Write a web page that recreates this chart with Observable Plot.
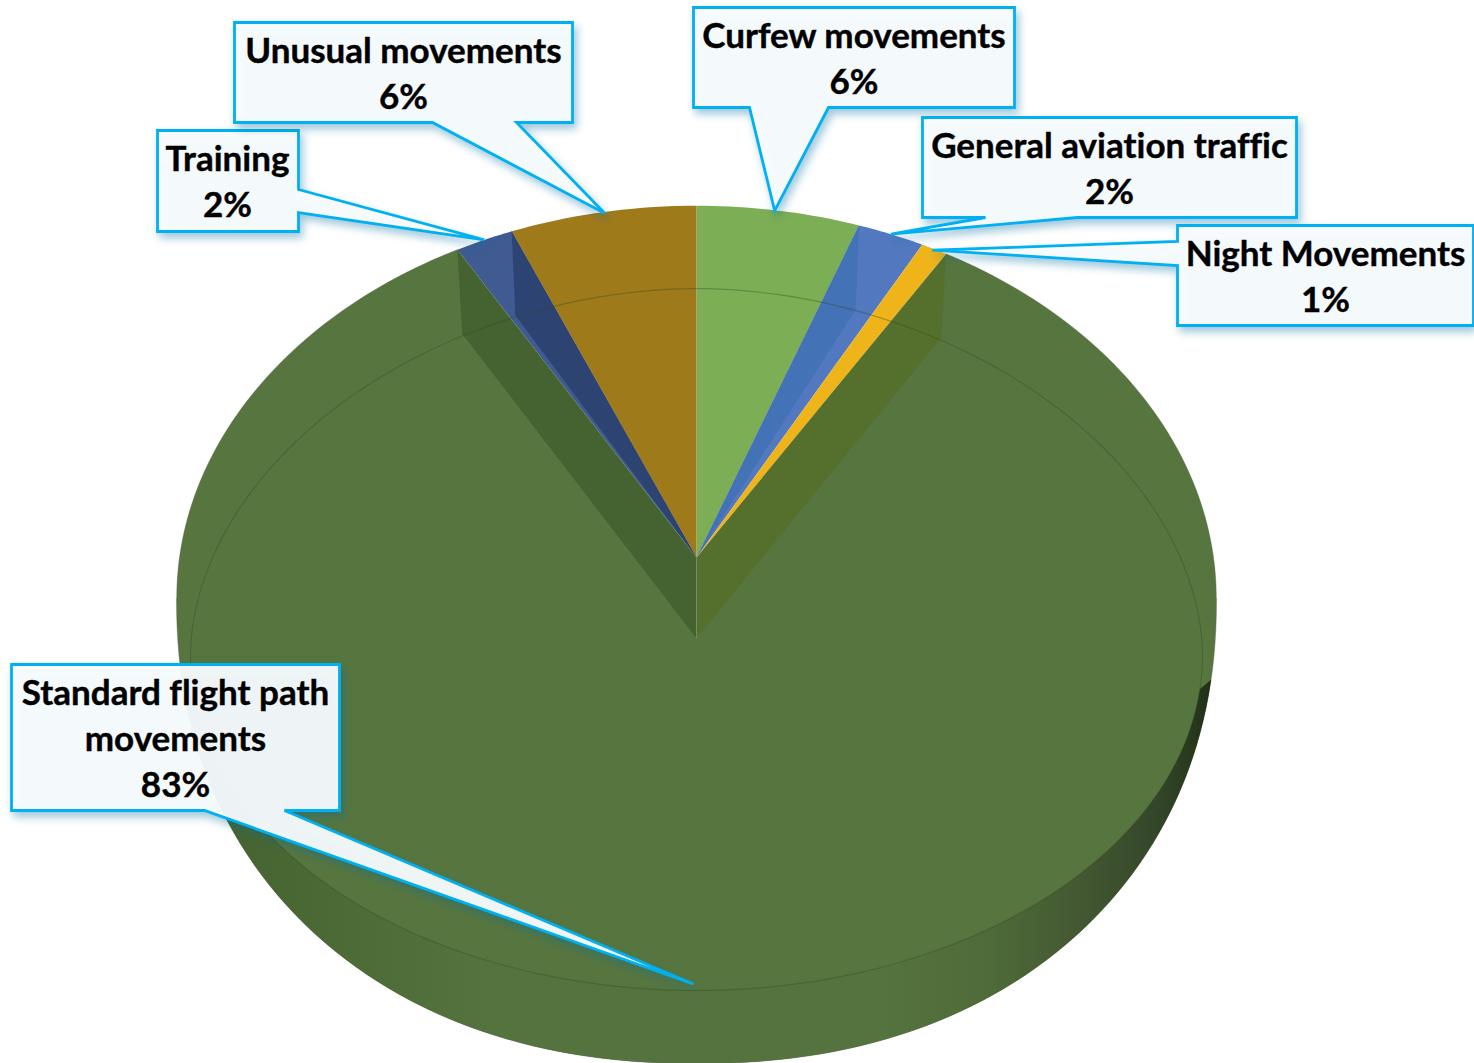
<!DOCTYPE html>
<html>
<head>
<meta charset="utf-8">
<script src="https://cdn.jsdelivr.net/npm/d3@7"></script>
<script src="https://cdn.jsdelivr.net/npm/@observablehq/plot@0.6"></script>
<style>
html,body{margin:0;padding:0;background:#fff}
svg{display:block}
g[stroke="#00b0f0"] path{filter:drop-shadow(3px 5px 4px rgba(0,110,160,.4))}
text{font-variant-ligatures:none;paint-order:stroke;stroke:#000;stroke-width:.4px}
</style>
</head>
<body>
<div id="chart"></div>
<script>
// ---- data, clockwise from 12 o'clock ----
const categories = ["Curfew movements","General aviation traffic","Night Movements","Standard flight path\nmovements","Training","Unusual movements"];
const shares = [5.6, 2.3, 0.9, 82.8, 2.0, 6.4];
const topColors = ["#7bae55","#5279c0","#eeb41a","#57763f","#3f5b92","#9f7a1b"];

// ---- projection of the tilted disc ----
const view = {cx:696, cy:557, a:517, b:388, k:0.103, drop:81, wx:.98, wy:.99};
const rim = t => {
  const d = 1 + view.k*Math.cos(t);
  return {x:view.cx + view.a*Math.sin(t)/d, y:view.cy - view.b*Math.cos(t)/d};
};
const floor = t => {
  const d = 1 + view.k*Math.cos(t);
  return {x:view.cx + view.wx*view.a*Math.sin(t)/d, y:view.cy + view.drop - view.wy*view.b*Math.cos(t)/d};
};
const apex = {x:view.cx, y:view.cy}, apex2 = {x:view.cx, y:view.cy+view.drop};
const arc = (t0,t1,n=80) => d3.range(n+1).map(i => rim(t0+(t1-t0)*i/n));

// outer lower silhouette and inner rim line (superelliptic under perspective)
const TAU = 2*Math.PI;
const sup = (cx,cy,a,b,n,p) => {
  const c = Math.cos(p), s = Math.sin(p);
  return {x:cx + a*Math.sign(c)*Math.abs(c)**(2/n), y:cy + b*Math.sign(s)*Math.abs(s)**(2/n)};
};
const lowerOuter = p => sup(696,597.5,520,465.5,2.18,p);
const innerLow = p => sup(696,655,506,335,2,p);
const innerUp = p => sup(696,655,506,367,1.9,p);

// slice angles
const cum = d3.cumsum(shares);
const total = d3.sum(shares);
const ang = i => (i<0 ? 0 : cum[i]/total*TAU);
const mid = i => (ang(i-1)+ang(i))/2;

const iStd = 3;
const tE = Math.acos(-view.k);
const silhouette = [
  ...arc(ang(iStd-1), tE, 60),
  ...d3.range(0,121).map(i => lowerOuter(Math.PI*i/120)),
  ...arc(TAU-tE, ang(iStd), 60)
];
const greenTop = [...silhouette, apex2];
const outerStart = 0.15, innerStart = 0.1;
const band = [
  ...d3.range(0,101).map(i => lowerOuter(outerStart+(Math.PI-2*outerStart)*i/100)),
  ...d3.range(100,-1,-1).map(i => innerLow(innerStart+(Math.PI-2*innerStart)*i/100))
];
const innerLine = [
  ...d3.range(0,121).map(i => innerUp(Math.PI+Math.PI*i/120)),
  ...d3.range(0,121).map(i => innerLow(Math.PI*i/120))
];

const poly = (pts,fill,extra={}) => Plot.line(pts,{x:"x",y:"y",fill,stroke:"none",curve:"linear",...extra});

const sliceMarks = shares.map((v,i) => i===iStd ? null :
  poly([apex, ...arc(ang(i-1),ang(i),20)], topColors[i]));

// walls seen inside the open wedge
const walls = [
  poly([apex, rim(ang(iStd-1)), floor(ang(iStd-1)), apex2], "#556f2c"),
  poly([apex, rim(ang(iStd)), floor(ang(iStd)), apex2], "#446330"),
  poly([apex, rim(ang(4)), floor(ang(4))], "#2d4472"),
  poly([apex, rim(ang(0)), floor(ang(0))], "#4472b6")
];

// ---- callouts: box + two base points of the pointer, tip comes from the slice ----
const layout = [
  {box:[693,7,1014,107],  side:"b", base:[749,828],  tx:853.5, tip:[-4,0]},
  {box:[922,117,1296,217],side:"b", base:[985,1077], tx:1109,  tip:[0,0]},
  {box:[1177,225,1473,325],side:"l",base:[241,265],  tx:1325,  tip:[-2,1]},
  {box:[11,664,339,810],  side:"b", base:[204,284],  tx:175,   tip:[4,-6]},
  {box:[157,130,298,231], side:"r", base:[189,212],  tx:227,   tip:[0,0]},
  {box:[234,22,572,122],  side:"b", base:[432,516],  tx:403,   tip:[2,1]}
];
const calloutPath = (l,i) => {
  const [x0,y0,x1,y1] = l.box, r = rim(mid(i)), t = {x:r.x+l.tip[0], y:r.y+l.tip[1]}, [p,q] = l.base;
  const P = (x,y)=>({x,y});
  if (l.side==="b") return [P(x0,y0),P(x1,y0),P(x1,y1),P(q,y1),t,P(p,y1),P(x0,y1),P(x0,y0),P(x1,y0)];
  if (l.side==="r") return [P(x0,y0),P(x1,y0),P(x1,p),t,P(x1,q),P(x1,y1),P(x0,y1),P(x0,y0),P(x1,y0)];
  return [P(x0,y0),P(x1,y0),P(x1,y1),P(x0,y1),P(x0,q),t,P(x0,p),P(x0,y0),P(x1,y0)];
};
const calloutMarks = layout.map((l,i) => Plot.line(calloutPath(l,i),{
  x:"x",y:"y",fill:"#fafdff",fillOpacity:.94,stroke:"#00b0f0",strokeWidth:2.8,
  strokeLinejoin:"miter",strokeMiterlimit:4,curve:"linear"
}));
const labels = layout.map((l,i) => ({
  x:l.tx, y:(l.box[1]+l.box[3])/2 - 1.5,
  text:categories[i]+"\n"+d3.format(".0f")(shares[i])+"%"
}));

const defs = () => {
  const d = d3.create("svg:defs");
  const g = d.append("linearGradient").attr("id","wallGrad").attr("gradientUnits","userSpaceOnUse")
    .attr("x1",176).attr("x2",1216).attr("y1",0).attr("y2",0);
  [[0,"#43602f"],[.12,"#4a6834"],[.3,"#55733e"],[.68,"#55733e"],[.78,"#4f6b39"],[.86,"#455a33"],[.94,"#35472a"],[1,"#1f2f16"]]
    .forEach(([o,c]) => g.append("stop").attr("offset",o).attr("stop-color",c));
  return d.node();
};

const chart = Plot.plot({
  width:1474, height:1063,
  marginTop:0, marginRight:0, marginBottom:0, marginLeft:0,
  x:{domain:[0,1474], range:[0,1474], axis:null},
  y:{domain:[0,1063], range:[0,1063], axis:null},
  style:{background:"#fff", overflow:"visible"},
  marks:[
    defs,
    poly(greenTop,"#57763f",{stroke:"#5a5a50",strokeWidth:.8,strokeOpacity:.5}),
    poly(band,"url(#wallGrad)"),
    ...sliceMarks.filter(Boolean),
    ...walls,
    Plot.line(innerLine,{x:"x",y:"y",stroke:"#2f4a1c",strokeOpacity:.35,strokeWidth:1.2,curve:"linear"}),
    ...calloutMarks,
    Plot.text(labels,{x:"x",y:"y",text:"text",fill:"#000",fontFamily:"Lato",fontWeight:700,fontSize:35,
      lineHeight:1.314,textAnchor:"middle",lineAnchor:"middle"})
  ]
});
document.getElementById("chart").append(chart);
</script>
</body>
</html>
